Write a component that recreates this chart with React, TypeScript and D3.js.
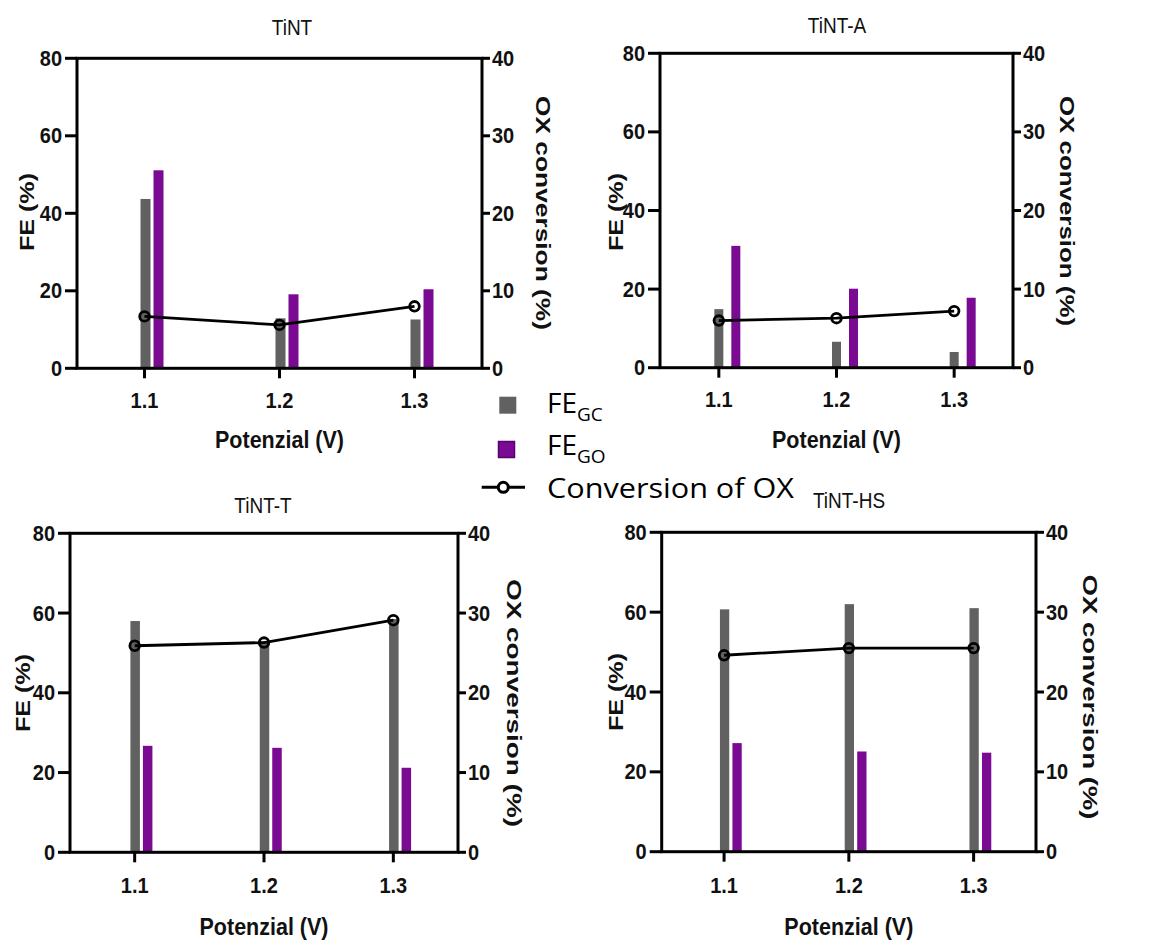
import React from "react";
import * as d3 from "d3";

const categories = ["1.1", "1.2", "1.3"];
const feTicks = [0, 20, 40, 60, 80];
const convTicks = [0, 10, 20, 30, 40];

const panelNames = ["TiNT", "TiNT-A", "TiNT-T", "TiNT-HS"];
const tintGC = [43.7, 12.9, 12.6];
const tintGO = [51.1, 19.1, 20.4];
const tintConv = [6.7, 5.6, 8.0];
const tintAGC = [14.9, 6.6, 4.0];
const tintAGO = [31.0, 20.1, 17.8];
const tintAConv = [6.0, 6.3, 7.2];
const tintTGC = [58.0, 53.0, 58.5];
const tintTGO = [26.7, 26.2, 21.2];
const tintTConv = [25.9, 26.3, 29.1];
const tintHSGC = [60.7, 62.0, 61.0];
const tintHSGO = [27.2, 25.1, 24.8];
const tintHSConv = [24.6, 25.5, 25.5];

const seriesGC = [tintGC, tintAGC, tintTGC, tintHSGC];
const seriesGO = [tintGO, tintAGO, tintTGO, tintHSGO];
const seriesConv = [tintConv, tintAConv, tintTConv, tintHSConv];

const GRAY = "#616161";
const PURPLE = "#7a0a91";

// layout (pixel positions only)
const layouts = [
  { left: 77, right: 482, top: 58.3, bottom: 368.3, titleX: 292, titleY: 35, tickY: 408, xTitleY: 448, feX: 26, feY: 212, convX: 544, convY: 213, convLen: 234, gcOff: 1, goOff: 14, bw: 10 },
  { left: 660, right: 1013, top: 53.3, bottom: 367.7, titleX: 837, titleY: 33, tickY: 407, xTitleY: 448, feX: 615, feY: 212, convX: 1068, convY: 211, convLen: 230, gcOff: 0, goOff: 17, bw: 9 },
  { left: 70, right: 458, top: 533.3, bottom: 852.3, titleX: 263, titleY: 513, tickY: 893, xTitleY: 935, feX: 22, feY: 693, convX: 515, convY: 703, convLen: 248, gcOff: 0.5, goOff: 13, bw: 9.5 },
  { left: 661.7, right: 1036, top: 532.3, bottom: 851.7, titleX: 849, titleY: 508, tickY: 893, xTitleY: 935, feX: 615, feY: 692, convX: 1091, convY: 697, convLen: 245, gcOff: 0.5, goOff: 13, bw: 9.3 },
];

const AX = "Liberation Sans, Arial, Helvetica, sans-serif";

function Txt(props: {
  x: number;
  y: number;
  sx?: number;
  sy?: number;
  anchor?: string;
  size: number;
  bold?: boolean;
  dy?: string;
  children: React.ReactNode;
}) {
  const { x, y, sx = 1, sy = 1, anchor = "middle", size, bold, dy, children } = props;
  return (
    <text
      transform={`translate(${x},${y}) scale(${sx},${sy})`}
      textAnchor={anchor}
      dy={dy}
      fontFamily={AX}
      fontWeight={bold ? "bold" : "normal"}
      fontSize={size}
      fill="#111"
    >
      {children}
    </text>
  );
}

function Panel({ idx }: { idx: number }) {
  const L = layouts[idx];
  const gc = seriesGC[idx];
  const go = seriesGO[idx];
  const conv = seriesConv[idx];
  const x = d3.scalePoint<string>().domain(categories).range([L.left, L.right]).padding(0.5);
  const yL = d3.scaleLinear().domain([0, 80]).range([L.bottom, L.top]);
  const yR = d3.scaleLinear().domain([0, 40]).range([L.bottom, L.top]);
  const line = d3
    .line<number>()
    .x((_, i) => x(categories[i]) as number)
    .y((d) => yR(d));
  return (
    <g>
      <Txt x={L.titleX} y={L.titleY} size={19} sx={1} sy={1.18}>
        {panelNames[idx]}
      </Txt>
      {categories.map((c, i) => (
        <g key={c}>
          <rect x={(x(c) as number) + L.gcOff - L.bw / 2} y={yL(gc[i])} width={L.bw} height={yL(0) - yL(gc[i])} fill={GRAY} />
          <rect x={(x(c) as number) + L.goOff - L.bw / 2} y={yL(go[i])} width={L.bw} height={yL(0) - yL(go[i])} fill={PURPLE} />
        </g>
      ))}
      <rect x={L.left} y={L.top} width={L.right - L.left} height={L.bottom - L.top} fill="none" stroke="#000" strokeWidth={3} />
      {feTicks.map((t) => (
        <g key={"l" + t}>
          <line x1={L.left - 12} x2={L.left} y1={yL(t)} y2={yL(t)} stroke="#000" strokeWidth={3} />
          <Txt x={L.left - 15} y={yL(t) + 7.5} anchor="end" bold size={20} sy={1.08}>
            {t}
          </Txt>
        </g>
      ))}
      {convTicks.map((t) => (
        <g key={"r" + t}>
          <line x1={L.right} x2={L.right + 8} y1={yR(t)} y2={yR(t)} stroke="#000" strokeWidth={3} />
          <Txt x={L.right + 10} y={yR(t) + 7.5} anchor="start" bold size={20} sy={1.08}>
            {t}
          </Txt>
        </g>
      ))}
      {categories.map((c) => (
        <g key={"x" + c}>
          <line x1={x(c)} x2={x(c)} y1={L.bottom} y2={L.bottom + 10} stroke="#000" strokeWidth={3} />
          <Txt x={x(c) as number} y={L.tickY} bold size={20} sy={1.08}>
            {c}
          </Txt>
        </g>
      ))}
      <path d={line(conv) || ""} fill="none" stroke="#000" strokeWidth={2.8} />
      {conv.map((v, i) => (
        <circle key={"c" + i} cx={x(categories[i])} cy={yR(v)} r={4.8} fill="none" stroke="#000" strokeWidth={2.8} />
      ))}
      <Txt x={(L.left + L.right) / 2} y={L.xTitleY} bold size={21.5} sy={1.1}>
        Potenzial (V)
      </Txt>
      <text
        transform={`translate(${L.feX},${L.feY}) rotate(-90)`}
        textAnchor="middle"
        dy="0.36em"
        fontFamily={AX}
        fontWeight="bold"
        fontSize={21}
        textLength={78}
        lengthAdjust="spacingAndGlyphs"
        fill="#111"
      >
        FE (%)
      </text>
      <text
        transform={`translate(${L.convX},${L.convY}) rotate(90)`}
        textAnchor="middle"
        dy="0.36em"
        fontFamily={AX}
        fontWeight="bold"
        fontSize={21}
        textLength={L.convLen}
        lengthAdjust="spacingAndGlyphs"
        fill="#111"
      >
        OX conversion (%)
      </text>
    </g>
  );
}

function Legend() {
  const LF = "Open Sans, Noto Sans, sans-serif";
  return (
    <g>
      <rect x={499.3} y={396.7} width={17} height={17} fill={GRAY} />
      <text x={547} y={413.3} fontFamily={LF} fontSize={28} fill="#000">
        FE<tspan fontSize={19} dy={8}>GC</tspan>
      </text>
      <rect x={498.5} y={441.5} width={16} height={16} fill={PURPLE} stroke="#5a0070" strokeWidth={1.5} />
      <text x={547} y={455} fontFamily={LF} fontSize={28} fill="#000">
        FE<tspan fontSize={19} dy={8}>GO</tspan>
      </text>
      <line x1={481.7} x2={525} y1={487.3} y2={487.3} stroke="#000" strokeWidth={3} />
      <circle cx={503.3} cy={487.3} r={5} fill="#fff" stroke="#000" strokeWidth={3} />
      <text x={547} y={498.3} fontFamily={LF} fontSize={28} textLength={247} lengthAdjust="spacingAndGlyphs" fill="#000">
        Conversion of OX
      </text>
    </g>
  );
}

export default function App() {
  return (
    <svg
      width={1169}
      height={940}
      viewBox="0 0 1169 940"
      style={{ position: "absolute", left: 0, top: 0, background: "#fff" }}
    >
      <rect x={0} y={0} width={1169} height={940} fill="#fff" />
      {[0, 1, 2, 3].map((i) => (
        <Panel key={i} idx={i} />
      ))}
      <Legend />
    </svg>
  );
}
